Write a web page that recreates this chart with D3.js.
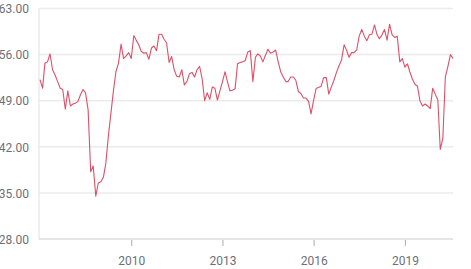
<!DOCTYPE html>
<html>
<head>
<meta charset="utf-8">
<script src="https://cdn.jsdelivr.net/npm/d3@7"></script>
<style>
  body { margin: 0; background: #fff; }
  .tick text { font-family: Roboto, sans-serif; font-size: 12px; fill: #6e7079; }
</style>
</head>
<body>
<div class="svg-container"></div>
<script>
var width = 471;
var height = 269;

var margin = { top: 8.5, right: 18, bottom: 30, left: 39 };

// monthly index values, Jan 2007 .. Aug 2020
var startMonth = "2007-01";
var values = [
  52.2, 50.9, 54.7, 54.9, 56.1, 53.7, 52.9, 51.9, 50.9, 50.7, 47.7, 50.5,
  48.2, 48.5, 48.6, 48.9, 49.9, 50.7, 50.2, 47.6, 38.2, 39.1, 34.5, 36.5,
  36.7, 37.4, 39.4, 43.6, 47.0, 50.5, 53.4, 54.7, 57.6, 55.4, 55.8, 56.3,
  55.4, 58.9, 58.2, 57.5, 56.5, 56.2, 56.3, 55.3, 57.0, 57.3, 56.6, 59.1,
  59.1, 58.3, 57.8, 54.8, 55.7, 53.7, 52.7, 52.6, 53.7, 51.4, 51.9, 53.1,
  53.3, 52.6, 53.7, 54.2, 52.4, 49.0, 50.2, 49.2, 51.1, 50.9, 49.1, 50.5,
  51.9, 53.4, 51.9, 50.5, 50.6, 50.8, 54.6, 54.8, 54.9, 55.1, 56.4, 56.6,
  51.9, 55.6, 56.1, 55.8, 54.9, 55.9, 56.8, 56.2, 56.4, 56.7, 54.9, 53.4,
  52.6, 51.9, 51.9, 52.6, 52.6, 52.1, 50.4, 50.1, 49.4, 49.4, 48.9, 47.0,
  49.1, 50.9, 51.0, 51.2, 52.5, 52.5, 50.0, 51.1, 52.1, 53.3, 54.3, 55.2,
  57.5, 56.6, 55.6, 56.3, 56.3, 56.7, 58.8, 59.8, 58.8, 58.1, 59.0, 59.1,
  60.5, 59.0, 58.4, 59.0, 59.8, 58.2, 60.6, 59.0, 58.6, 58.8, 54.9, 55.4,
  54.1, 54.6, 53.4, 52.3, 51.5, 51.2, 49.0, 48.2, 48.5, 48.2, 47.8, 50.9,
  50.0, 49.1, 41.6, 43.3, 52.6, 54.2, 56.0, 55.4
];
var yTicks = [28, 35, 42, 49, 56, 63];
var xTickYears = [2010, 2013, 2016, 2019];

var parseMonth = d3.timeParse("%Y-%m");
var start = parseMonth(startMonth);
var data = values.map(function(v, i) {
  return { date: d3.timeMonth.offset(start, i), value: v };
});

var svg = d3.select(".svg-container")
  .append("svg")
  .attr("width", width)
  .attr("height", height);

var scaleX = d3.scaleTime()
  .domain(d3.extent(data, function(d) { return d.date; }))
  .range([margin.left + 1, width - margin.right]);

var scaleY = d3.scaleLinear()
  .domain([28, 63])
  .range([height - margin.bottom, margin.top]);

// gridlines
svg.append("g")
  .selectAll("line")
  .data(yTicks)
  .enter()
  .append("line")
  .attr("x1", margin.left)
  .attr("x2", width - margin.right)
  .attr("y1", function(d) { return scaleY(d); })
  .attr("y2", function(d) { return scaleY(d); })
  .attr("stroke", function(d) { return d == 28 ? "#dcdcdc" : "#ebebeb"; })
  .attr("stroke-width", 1.5);

// left axis line
svg.append("line")
  .attr("x1", margin.left)
  .attr("x2", margin.left)
  .attr("y1", scaleY(63))
  .attr("y2", scaleY(28))
  .attr("stroke", "#e0e0e0")
  .attr("stroke-width", 1);

// y labels
var yAxis = svg.append("g")
  .attr("transform", "translate(" + (margin.left - 10) + ",0)")
  .call(d3.axisLeft(scaleY).tickValues(yTicks).tickSize(0).tickPadding(0)
    .tickFormat(d3.format(".2f")));
yAxis.select(".domain").remove();
yAxis.selectAll("text").attr("dy", "0.35em");

// x axis ticks and labels
var xAxis = svg.append("g")
  .attr("transform", "translate(0," + (scaleY(28) + 1) + ")")
  .call(d3.axisBottom(scaleX)
    .tickValues(xTickYears.map(function(y) { return new Date(y, 0, 1); }))
    .tickSize(6).tickPadding(10)
    .tickFormat(d3.timeFormat("%Y")));
xAxis.select(".domain").remove();
xAxis.selectAll(".tick line").attr("stroke", "#a8adb5");

// data line
var valueline = d3.line()
  .x(function(d) { return scaleX(d.date); })
  .y(function(d) { return scaleY(d.value); });

svg.append("path")
  .data([data])
  .attr("fill", "none")
  .attr("stroke", "#dc5068")
  .attr("stroke-width", 1.1)
  .attr("stroke-linejoin", "round")
  .attr("d", valueline);
</script>
</body>
</html>
